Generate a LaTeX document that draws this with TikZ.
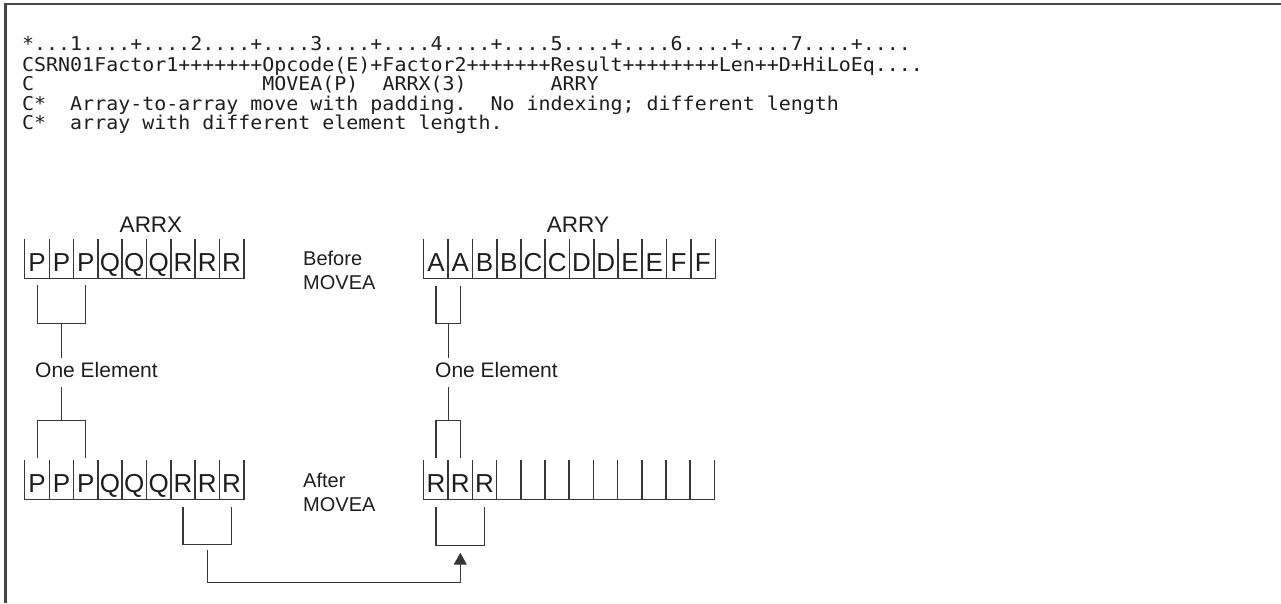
\documentclass[tikz,border=0pt]{standalone}
\usepackage{fontspec}
\setmainfont{Liberation Sans}
\newfontfamily\codefont[FakeStretch=1.05]{DejaVu Sans Mono}
\usetikzlibrary{
    arrows.meta,
    calc
}
\definecolor{ink}{RGB}{30,30,30}
\definecolor{rule}{RGB}{55,55,55}
\definecolor{framegray}{RGB}{70,70,70}
\tikzset{
    line cap=butt,
    codeline/.style={
        anchor=base west,
        inner sep=0pt,
        font=\codefont\fontsize{19}{20}\selectfont\frenchspacing,
        text=ink
    },
    cell/.style={
        minimum width=24.3pt,
        minimum height=39pt,
        inner sep=0pt,
        text height=25pt,
        text depth=0pt,
        font=\fontsize{26}{26}\selectfont,
        text=ink
    },
    cellline/.style={
        draw=rule,
        line width=1.2pt
    },
    arrayname/.style={
        font=\fontsize{22.5}{22.5}\selectfont,
        text=ink
    },
    caption/.style={
        font=\fontsize{20}{24}\selectfont,
        align=left,
        anchor=west,
        inner sep=0pt,
        text=ink
    },
    elemlabel/.style={
        font=\fontsize{21}{21}\selectfont,
        anchor=west,
        text height=15pt,
        text depth=5pt,
        inner xsep=0pt,
        inner ysep=4.5pt,
        text=ink
    },
    bracket/.style={
        draw=rule,
        line width=1.3pt
    },
    moveline/.style={
        bracket,
        -{Triangle[width=13pt,length=12pt]}
    },
    frameline/.style={
        draw=framegray,
        line width=2.2pt
    }
}

\begin{document}
\begin{tikzpicture}[x=1pt, y=-1pt]
\useasboundingbox (0,0) rectangle (1281,603);

% Frame
\draw[frameline] (1281,4) -- (5.5,4) -- (5.5,603);

% Source lines
\node[codeline] (code1) at (22,50.5) {*...1....+....2....+....3....+....4....+....5....+....6....+....7....+....};
\node[codeline] (code2) at (22,71) {CSRN01Factor1+++++++Opcode(E)+Factor2+++++++Result++++++++Len++D+HiLoEq....};
\node[codeline] (code3) at (22,90.5) {C\hphantom{SRN01Factor1+++++++}MOVEA(P)~~ARRX(3)\hphantom{+++++++}ARRY};
\node[codeline] (code4) at (22,110) {C*~~Array-to-array move with padding.~~No indexing; different length};
\node[codeline] (code5) at (22,129) {C*~~array with different element length.};

% Array names
\node[arrayname] (arrx) at (151,225) {ARRX};
\node[arrayname] (arry) at (578,225) {ARRY};

% Before MOVEA
\foreach \c [count=\i] in {P,P,P,Q,Q,Q,R,R,R}
    \node[cell] (xb\i) at ({25+24.3*(\i-0.5)},258.5) {\c};
\foreach \c [count=\i] in {A,A,B,B,C,C,D,D,E,E,F,F}
    \node[cell] (yb\i) at ({424+24.25*(\i-0.5)},259) {\c};
\foreach \i in {1,...,9}
    \draw[cellline] (xb\i.north west) |- (xb\i.south east) -- (xb\i.north east);
\foreach \i in {1,...,12}
    \draw[cellline] (yb\i.north west) |- (yb\i.south east) -- (yb\i.north east);
\node[caption] (before) at (303,270) {Before\\MOVEA};

% One element
\node[elemlabel] (onex) at (35,372.5) {One Element};
\node[elemlabel] (oney) at (435,372.5) {One Element};

\draw[bracket] ([yshift=-7pt]xb1.south) -- ([yshift=-45pt]xb1.south)
    -- ([yshift=-45pt]xb3.south) -- ([yshift=-7pt]xb3.south);
\draw[bracket] ([yshift=-45pt]xb2.south) -- (onex.north -| xb2.south);
\draw[bracket] ([yshift=-7pt]yb1.south) -- ([yshift=-45pt]yb1.south)
    -- ([yshift=-45pt]yb2.south) -- ([yshift=-7pt]yb2.south);
\draw[bracket] ([yshift=-45pt]yb1.south east) -- (oney.north -| yb1.south east);

% After MOVEA
\foreach \c [count=\i] in {P,P,P,Q,Q,Q,R,R,R}
    \node[cell] (xa\i) at ({25+24.3*(\i-0.5)},480) {\c};
\foreach \c [count=\i] in {R,R,R,{},{},{},{},{},{},{},{},{}}
    \node[cell] (ya\i) at ({424+24.2*(\i-0.5)},480) {\c};
\foreach \i in {1,...,9}
    \draw[cellline] (xa\i.north west) |- (xa\i.south east) -- (xa\i.north east);
\foreach \i in {1,...,12}
    \draw[cellline] (ya\i.north west) |- (ya\i.south east) -- (ya\i.north east);
\node[caption] (after) at (303,492) {After\\MOVEA};

\draw[bracket] (onex.south -| xa2.north) -- ([yshift=40pt]xa2.north);
\draw[bracket] ([yshift=2pt]xa1.north) -- ([yshift=40pt]xa1.north)
    -- ([yshift=40pt]xa3.north) -- ([yshift=2pt]xa3.north);
\draw[bracket] (oney.south -| ya1.north east) -- ([yshift=40pt]ya1.north east);
\draw[bracket] ([yshift=2pt]ya1.north) -- ([yshift=40pt]ya1.north)
    -- ([yshift=40pt]ya2.north) -- ([yshift=2pt]ya2.north);

% Moved element
\draw[bracket] ([yshift=-7pt]xa7.south) -- ([yshift=-45pt]xa7.south)
    -- ([yshift=-45pt]xa9.south) -- ([yshift=-7pt]xa9.south);
\draw[bracket] ([yshift=-7pt]ya1.south) -- ([yshift=-46pt]ya1.south)
    -- ([yshift=-46pt]ya3.south) -- ([yshift=-7pt]ya3.south);
\draw[moveline] ([yshift=-50pt]xa8.south) -- ([yshift=-83pt]xa8.south)
    -| ([yshift=-53pt]ya2.south);
\end{tikzpicture}
\end{document}
